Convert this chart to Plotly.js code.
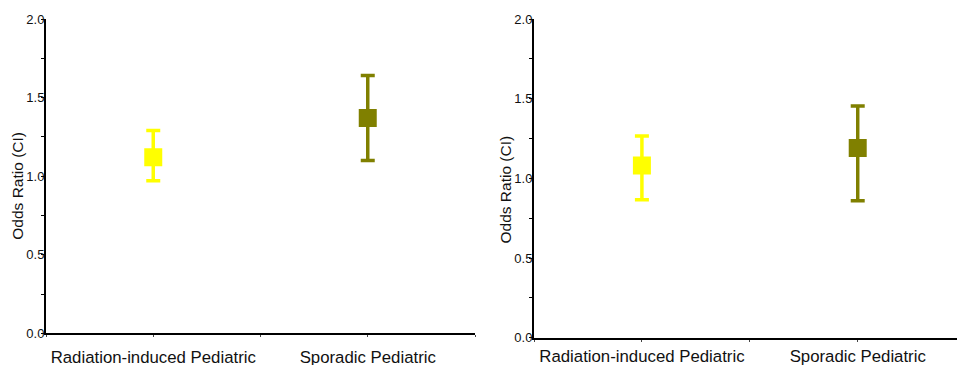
<!DOCTYPE html>
<html>
<head>
<meta charset="utf-8">
<script src="https://cdn.plot.ly/plotly-3.0.1.min.js"></script>
<style>html,body{margin:0;padding:0;background:#fff;}#chart{width:957px;height:365px;}</style>
</head>
<body>
<div id="chart"></div>
<script>
// Data
const categories = ["Radiation-induced Pediatric", "Sporadic Pediatric"];
const colors = ["#FFFF00", "#808000"];
// Left panel
const leftOR = [1.12, 1.37];
const leftLower = [0.97, 1.10];
const leftUpper = [1.29, 1.64];
// Right panel
const rightOR = [1.08, 1.19];
const rightLower = [0.866, 0.86];
const rightUpper = [1.266, 1.454];
const yTickVals = [0, 0.5, 1.0, 1.5, 2.0];
const yTickText = ["0.0", "0.5", "1.0", "1.5", "2.0"];
const yTitle = "Odds Ratio (CI)";

const FONT = "Arial, 'Liberation Sans', sans-serif";
const xIdx = categories.map((c, i) => i);

function makeTraces(or, lo, hi, xa, ya) {
  return categories.map((c, i) => ({
    type: 'scatter', mode: 'markers',
    x: [xIdx[i]], y: [or[i]], name: c,
    xaxis: xa, yaxis: ya, showlegend: false,
    marker: {symbol: 'square', size: 18, color: colors[i]},
    error_y: {type: 'data', symmetric: false,
      array: [hi[i] - or[i]], arrayminus: [or[i] - lo[i]],
      color: colors[i], thickness: 3.5, width: 7}
  }));
}

const traces = [
  ...makeTraces(leftOR, leftLower, leftUpper, 'x', 'y'),
  ...makeTraces(rightOR, rightLower, rightUpper, 'x2', 'y2')
];

function yaxis(domain, anchor) {
  return {
    domain: domain, anchor: anchor, range: [0, 2],
    tickvals: yTickVals, ticktext: yTickText,
    ticks: 'outside', ticklen: 3, tickwidth: 1, tickcolor: '#000',
    minor: {dtick: 0.25, tick0: 0, ticks: 'outside', ticklen: 3, tickwidth: 1, tickcolor: '#000'},
    showline: true, linecolor: '#000', linewidth: 2,
    showgrid: false, zeroline: false,
    ticklabelstandoff: -6,
    tickfont: {family: FONT, size: 13, color: '#111'}
  };
}
function xaxis(domain, anchor, range, standoff) {
  return {
    domain: domain, anchor: anchor, range: range,
    tickvals: xIdx, ticktext: categories,
    ticks: 'outside', ticklen: 2, tickwidth: 1, tickcolor: '#444',
    minor: {dtick: 0.5, tick0: 0, ticks: 'outside', ticklen: 2, tickwidth: 1, tickcolor: '#444'},
    showline: true, linecolor: '#000', linewidth: 2,
    showgrid: false, zeroline: false,
    ticklabelstandoff: standoff,
    tickfont: {family: FONT, size: 16.8, color: '#111'}
  };
}

const layout = {
  width: 957, height: 365,
  margin: {l: 0, r: 0, t: 0, b: 0},
  paper_bgcolor: '#fff', plot_bgcolor: '#fff',
  showlegend: false,
  xaxis: xaxis([46/957, 475/957], 'y', [-0.5, 1.5], 6),
  yaxis: yaxis([1 - 333.3/365, 1 - 19/365], 'x'),
  xaxis2: xaxis([534/957, 1], 'y2', [-0.5, 1.46], 0),
  yaxis2: yaxis([1 - 337.7/365, 1 - 19/365], 'x2'),
  annotations: [
    {text: yTitle, xref: 'paper', yref: 'paper', x: 16.7/957, y: 1 - 186/365,
     textangle: -90, showarrow: false, xanchor: 'center', yanchor: 'middle',
     font: {family: FONT, size: 15.5, color: '#111'}},
    {text: yTitle, xref: 'paper', yref: 'paper', x: 504.5/957, y: 1 - 189/365,
     textangle: -90, showarrow: false, xanchor: 'center', yanchor: 'middle',
     font: {family: FONT, size: 15.5, color: '#111'}}
  ]
};

Plotly.newPlot('chart', traces, layout, {staticPlot: true, displayModeBar: false});
</script>
</body>
</html>
